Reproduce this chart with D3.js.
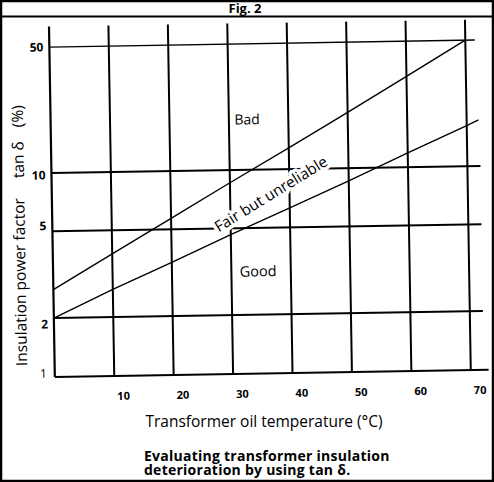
<!DOCTYPE html>
<html><head><meta charset="utf-8">
<script src="https://cdn.jsdelivr.net/npm/d3@7"></script>
<style>html,body{margin:0;padding:0;background:#fff;overflow:hidden;} svg{display:block;}</style>
</head><body><svg id="c" width="494" height="482"></svg>
<script>
// ---- data ----
const temperatures = [0, 10, 20, 30, 40, 50, 60, 70];
const tempTickLabels = [10, 20, 30, 40, 50, 60, 70];
const factorTicks = [1, 2, 5, 10, 50];
const badBoundaryTemps = [0, 10, 20, 30, 40, 50, 60, 70];
const badBoundary = [2.7, 3.9, 5.7, 8.6, 13.1, 20.4, 31.9, 50];
const goodBoundaryTemps = [0, 10, 20, 30, 40, 50, 60, 70, 72];
const goodBoundary = [2.0, 2.68, 3.53, 4.68, 6.3, 8.6, 12.0, 16.8, 18.0];
const figTitle = "Fig. 2";
const xTitle = "Transformer oil temperature (°C)";
const yTitleParts = ["Insulation power factor", "tan δ", "(%)"];
const captionLines = ["Evaluating transformer insulation", "deterioration by using tan δ."];
const regionLabels = {bad: "Bad", fair: "Fair but unreliable", good: "Good"};

// ---- drawing ----
const svg = d3.select("#c");
const W = 494, H = 482;
const FONT = "'Open Sans', 'Noto Sans', sans-serif";

svg.append("rect").attr("x", 1).attr("y", 1).attr("width", W - 2).attr("height", H - 2)
  .attr("fill", "#fff").attr("stroke", "#000").attr("stroke-width", 2.5);
svg.append("line").attr("x1", 0).attr("x2", W).attr("y1", 16.5).attr("y2", 16.5)
  .attr("stroke", "#000").attr("stroke-width", 2);
svg.append("text").attr("x", 245).attr("y", 13).attr("text-anchor", "middle")
  .attr("font-family", FONT).attr("font-weight", "bold").attr("font-size", 13).text(figTitle);

const x = d3.scaleLinear().domain([0, 70]).range([52, 468]);
const y = d3.scaleLog().domain([1, 2, 5, 10, 50]).range([373.5, 314.5, 227.8, 169.5, 43.5]);

const g = svg.append("g").attr("transform", "rotate(-0.95,265,205)");

// vertical grid lines
g.selectAll("line.v").data(temperatures).join("line").attr("class", "v")
  .attr("x1", d => x(d)).attr("x2", d => x(d))
  .attr("y1", 23).attr("y2", y(1))
  .attr("stroke", "#000").attr("stroke-width", d => d === 0 ? 2.2 : 2);

// horizontal grid lines
g.selectAll("line.h").data(factorTicks).join("line").attr("class", "h")
  .attr("x1", x(0)).attr("x2", d => d === 1 ? x(73) : (d === 50 ? x(71.6) : x(72.2)))
  .attr("y1", d => y(d)).attr("y2", d => y(d))
  .attr("stroke", "#000").attr("stroke-width", d => d === 50 ? 1.3 : 2);

// boundary lines
const line = d3.line().x(d => x(d[0])).y(d => y(d[1]));
g.append("path").datum(badBoundaryTemps.map((t, i) => [t, badBoundary[i]]))
  .attr("d", line).attr("fill", "none").attr("stroke", "#000").attr("stroke-width", 1.4);
g.append("path").datum(goodBoundaryTemps.map((t, i) => [t, goodBoundary[i]]))
  .attr("d", line).attr("fill", "none").attr("stroke", "#000").attr("stroke-width", 1.4);

// y tick labels
const yNudge = {50: 0, 10: 2, 5: -5.5, 2: 6, 1: -3.7};
g.selectAll("text.yt").data(factorTicks).join("text").attr("class", "yt")
  .attr("x", d => d === 1 ? 44 : 46).attr("y", d => y(d) + yNudge[d]).attr("dy", "0.36em")
  .attr("text-anchor", "end").attr("font-family", FONT)
  .attr("font-weight", d => d === 1 ? "normal" : "bold").attr("font-size", 12).text(d => d);

// x tick labels
g.selectAll("text.xt").data(tempTickLabels).join("text").attr("class", "xt")
  .attr("x", d => x(d) + 9).attr("y", 393.5).attr("dy", "0.36em")
  .attr("text-anchor", "middle").attr("font-family", FONT)
  .attr("font-weight", "bold").attr("font-size", 11).text(d => d);

// y title
const yt = g.append("text").attr("transform", "translate(24.5,362) rotate(-90)")
  .attr("text-anchor", "start").attr("font-family", FONT).attr("font-size", 15.5);
yt.append("tspan").text(yTitleParts[0]);
yt.append("tspan").attr("dx", 20).text(yTitleParts[1]);
yt.append("tspan").attr("dx", 14).text(yTitleParts[2]);

// region labels
g.append("text").attr("x", 248.5).attr("y", 119).attr("dy", "0.36em").attr("text-anchor", "middle")
  .attr("font-family", FONT).attr("font-size", 14).attr("font-weight", 500).text(regionLabels.bad);
g.append("text").attr("x", 257).attr("y", 271).attr("dy", "0.36em").attr("text-anchor", "middle")
  .attr("font-family", FONT).attr("font-size", 14.5).attr("font-weight", 500).text(regionLabels.good);
g.append("text").attr("transform", "translate(271,194) rotate(-30.7)").attr("dy", "0.36em")
  .attr("text-anchor", "middle").attr("font-family", FONT).attr("font-size", 15.2)
  .attr("font-weight", 500)
  .attr("stroke", "#fff").attr("stroke-width", 7).attr("stroke-linejoin", "round")
  .attr("paint-order", "stroke").attr("fill", "#000")
  .text(regionLabels.fair);

// x title & caption
svg.append("text").attr("x", 264).attr("y", 421).attr("dy", "0.36em").attr("text-anchor", "middle")
  .attr("font-family", FONT).attr("font-size", 15.5).text(xTitle);
const cap = svg.append("text").attr("font-family", FONT).attr("font-weight", "bold")
  .attr("font-size", 14).attr("letter-spacing", 0.25);
cap.selectAll("tspan").data(captionLines).join("tspan")
  .attr("x", 144).attr("y", (d, i) => 455.5 + i * 14.5).attr("dy", "0.36em").text(d => d);
</script>
</body></html>
